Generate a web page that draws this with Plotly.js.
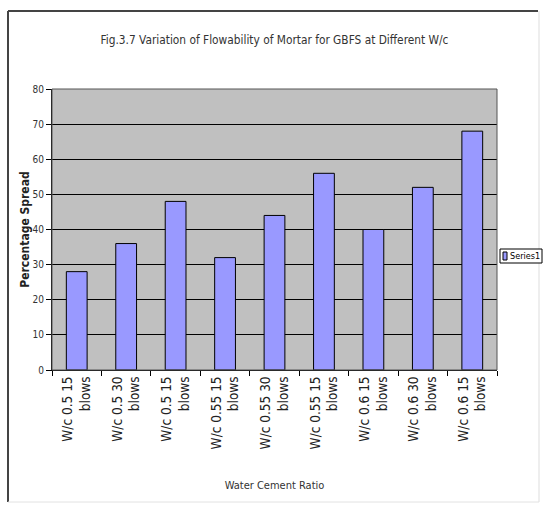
<!DOCTYPE html>
<html>
<head>
<meta charset="utf-8">
<script src="https://cdn.plot.ly/plotly-3.0.1.min.js"></script>
<style>
  html, body { margin: 0; padding: 0; background: #fff; overflow: hidden; }
  #chart { width: 543px; height: 507px; }
</style>
</head>
<body>
<div id="chart"></div>
<script>
// Flowability of GBFS mortar at different water/cement ratios
const categories = [
  "W/c 0.5 15<br>blows", "W/c 0.5 30<br>blows", "W/c 0.5 15<br>blows",
  "W/c 0.55 15<br>blows", "W/c 0.55 30<br>blows", "W/c 0.55 15<br>blows",
  "W/c 0.6 15<br>blows", "W/c 0.6 30<br>blows", "W/c 0.6 15<br>blows"
];
// unique keys so repeated labels stay as separate categories
const categoryKeys = ["c1", "c2", "c3", "c4", "c5", "c6", "c7", "c8", "c9"];
const spread = [28, 36, 48, 32, 44, 56, 40, 52, 68];
const yTicks = [0, 10, 20, 30, 40, 50, 60, 70, 80];
const seriesName = 'Series1';

const narrow = '"DejaVu Sans Condensed", "Liberation Sans Narrow", Arial, sans-serif';
const barColor = '#9999FF';

const trace = {
  type: 'bar',
  name: seriesName,
  x: categoryKeys,
  y: spread,
  marker: { color: barColor, line: { color: '#000', width: 1 } },
  hoverinfo: 'skip',
  showlegend: false
};

// plot area in pixels: x 52..497, y 89..370
const L = 52, R = 497, T = 89, B = 370;
const pw = R - L, ph = B - T;
const px = v => (v - L) / pw;
const py = v => (B - v) / ph;

// compact legend box to the right of the plot
const legX0 = 500, legX1 = 542, legY0 = 249, legY1 = 263;

const layout = {
  width: 543, height: 507,
  margin: { l: L, r: 543 - R, t: T, b: 507 - B },
  paper_bgcolor: '#fff',
  plot_bgcolor: '#C0C0C0',
  bargap: 0.58,
  showlegend: false,
  title: {
    text: 'Fig.3.7 Variation of Flowability of Mortar for GBFS at Different W/c',
    font: { family: narrow, size: 11.8, color: '#333' },
    x: 0.5, xanchor: 'center', xref: 'paper',
    y: 1 - 40 / 507, yanchor: 'middle'
  },
  xaxis: {
    type: 'category',
    tickvals: categoryKeys,
    ticktext: categories,
    tickangle: -90,
    tickson: 'boundaries',
    ticks: 'outside', ticklen: 5, tickcolor: '#000',
    showgrid: false,
    showline: true, linecolor: '#000', linewidth: 1,
    tickfont: { family: narrow, size: 13.5, color: '#222' },
    title: {
      text: 'Water Cement Ratio',
      font: { family: narrow, size: 11, color: '#333' },
      standoff: 32
    },
    automargin: false,
    fixedrange: true
  },
  yaxis: {
    range: [0, 80],
    tickvals: yTicks,
    ticks: 'outside', ticklen: 5, tickcolor: '#000',
    showgrid: true, gridcolor: '#000', gridwidth: 1,
    showline: true, linecolor: '#000', linewidth: 1,
    zeroline: false,
    tickfont: { family: narrow, size: 10, color: '#333' },
    title: {
      text: '<b>Percentage Spread</b>',
      font: { family: narrow, size: 12, color: '#222' },
      standoff: 0
    },
    automargin: false,
    fixedrange: true
  },
  annotations: [
    {
      xref: 'paper', yref: 'paper',
      x: px(legX0 + 8), xanchor: 'left',
      y: py((legY0 + legY1) / 2), yanchor: 'middle',
      text: seriesName, showarrow: false,
      font: { family: narrow, size: 9, color: '#000' }
    }
  ],
  shapes: [
    // outer chart frame: dark top/left edges, faint right/bottom edges
    { type: 'line', xref: 'paper', yref: 'paper', x0: px(8), x1: px(538), y0: py(11), y1: py(11),
      line: { color: '#444', width: 2 } },
    { type: 'line', xref: 'paper', yref: 'paper', x0: px(8), x1: px(8), y0: py(11), y1: py(502),
      line: { color: '#444', width: 2 } },
    { type: 'line', xref: 'paper', yref: 'paper', x0: px(539), x1: px(539), y0: py(11), y1: py(502),
      line: { color: '#ddd', width: 1 } },
    { type: 'line', xref: 'paper', yref: 'paper', x0: px(8), x1: px(539), y0: py(502), y1: py(502),
      line: { color: '#e2e2e2', width: 1 } },
    // outline of plot area
    { type: 'rect', xref: 'paper', yref: 'paper', x0: 0, x1: 1, y0: 0, y1: 1,
      line: { color: '#555', width: 1 } },
    // legend box and swatch
    { type: 'rect', xref: 'paper', yref: 'paper',
      x0: px(legX0), x1: px(legX1), y0: py(legY1), y1: py(legY0),
      line: { color: '#000', width: 1 }, fillcolor: '#fff' },
    { type: 'rect', xref: 'paper', yref: 'paper',
      x0: px(legX0 + 3), x1: px(legX0 + 7), y0: py(legY1 - 3), y1: py(legY0 + 3),
      line: { color: '#000', width: 1 }, fillcolor: barColor }
  ]
};

Plotly.newPlot('chart', [trace], layout, { displayModeBar: false, staticPlot: true });
</script>
</body>
</html>
